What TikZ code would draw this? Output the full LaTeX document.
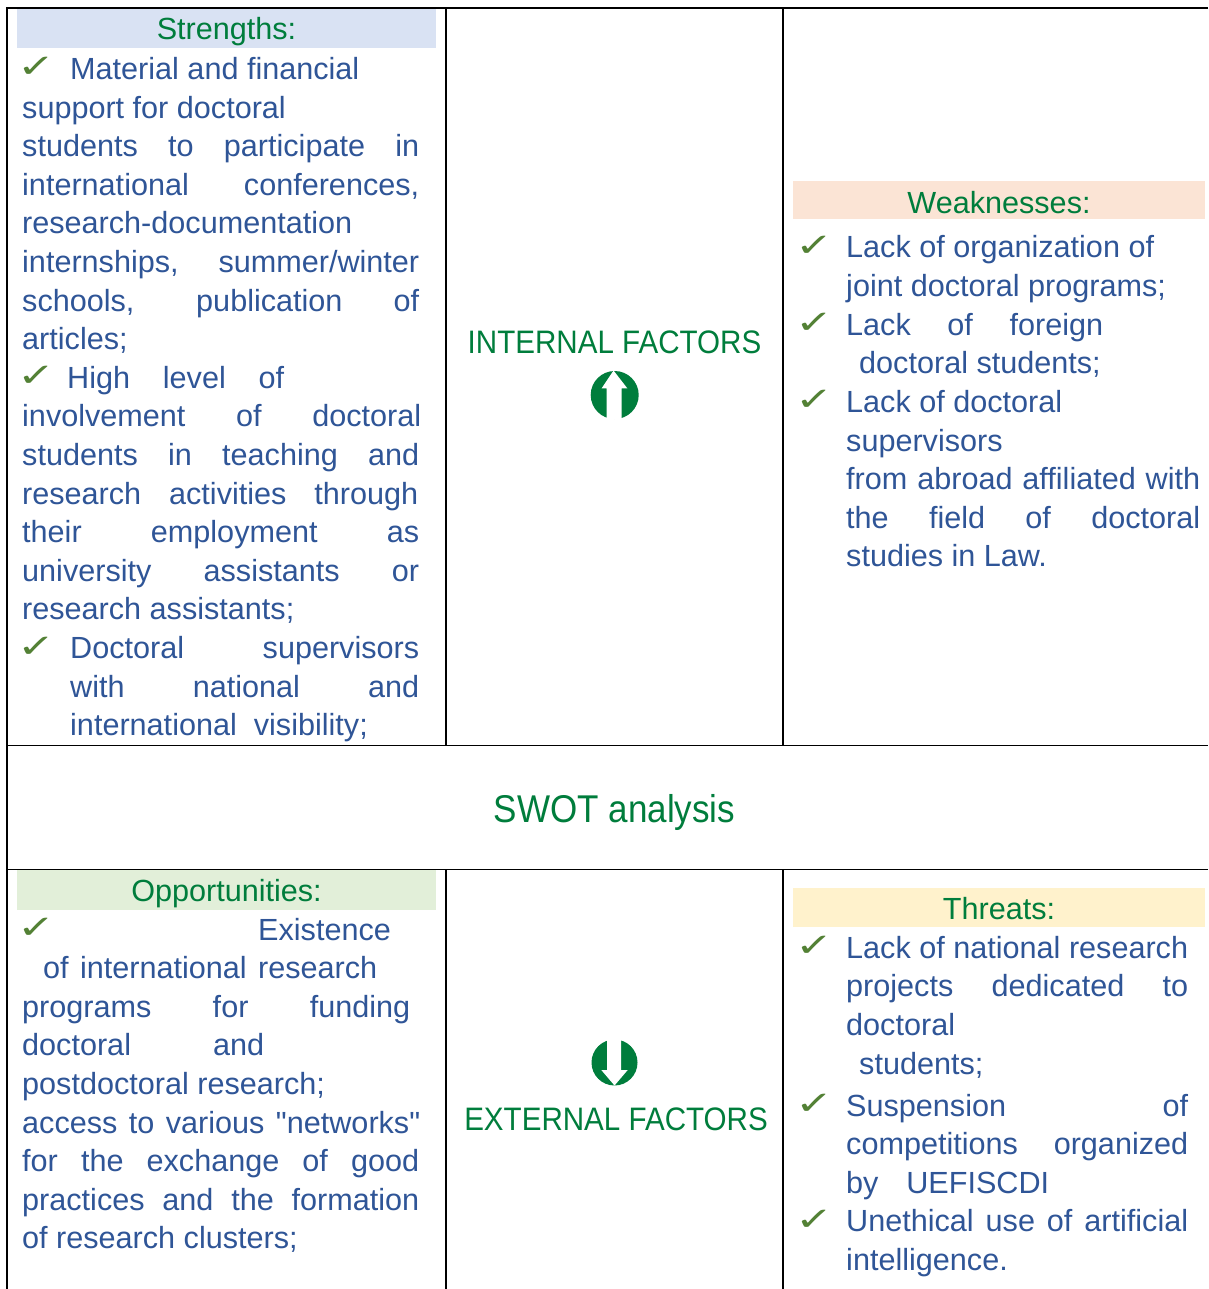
\documentclass[tikz,border=0pt]{standalone}
\usepackage{fontspec}
\setmainfont{Liberation Sans}
\newfontfamily\swotfont{Liberation Sans}
\newfontfamily\tickfont{DejaVu Sans}

\definecolor{swotblue}{RGB}{47,85,151}
\definecolor{swotgreen}{RGB}{0,125,60}
\definecolor{tickgreen}{RGB}{83,129,53}
\definecolor{strfill}{RGB}{217,226,243}
\definecolor{weakfill}{RGB}{251,228,213}
\definecolor{oppfill}{RGB}{226,239,217}
\definecolor{thrfill}{RGB}{255,242,204}

\newcommand{\swotbody}{\swotfont\fontsize{30.6}{38.6}\selectfont}
\newcommand{\just}[2]{\makebox[#1pt][s]{#2}}
\newcommand{\tickmark}{\scalebox{1.2}[0.85]{✓}}

\begin{document}
\begin{tikzpicture}[x=1pt, y=-1pt,
	txt/.style={anchor=base west, inner sep=0, text=swotblue, font=\swotbody},
	head/.style={anchor=base, inner sep=0, text=swotgreen, font=\swotbody},
	tick/.style={anchor=base west, inner sep=0, text=tickgreen, font=\tickfont\fontsize{38}{38}\selectfont},
	factor/.style={anchor=base, inner sep=0, text=swotgreen, font=\swotfont\fontsize{32.5}{32.5}\selectfont},
	rule/.style={line width=1.6pt}]
	\useasboundingbox (0, 0) rectangle (1208, 1289);
	\fill[white] (0, 0) rectangle (1208, 1289);

	% header bands
	\fill[strfill] (17, 9) rectangle (436, 48);
	\fill[weakfill] (793, 181) rectangle (1205, 219);
	\fill[oppfill] (17, 870) rectangle (436, 910);
	\fill[thrfill] (793, 888) rectangle (1205, 927);

	% table rules
	\draw[rule] (1208, 8) -- (7, 8) -- (7, 1289);
	\draw[rule] (7, 745.5) -- (1208, 745.5);
	\draw[rule] (7, 869.5) -- (1208, 869.5);
	\draw[rule] (446, 8) -- (446, 745.5);
	\draw[rule] (783, 8) -- (783, 745.5);
	\draw[rule] (446, 869.5) -- (446, 1289);
	\draw[rule] (783, 869.5) -- (783, 1289);

	% Strengths
	\node (strhead) at (226.5, 39.5) [head] {Strengths:};
	\node (st1) at (17, 78) [tick] {\tickmark};
	\node (s1) at (70, 79.5) [txt] {Material and financial};
	\node (s2) at (22, 118.1) [txt] {support for doctoral};
	\node (s3) at (22, 156.7) [txt] {\just{397}{students to participate in}};
	\node (s4) at (22, 195.3) [txt] {\just{397}{international conferences,}};
	\node (s5) at (22, 233.9) [txt] {research-documentation};
	\node (s6) at (22, 272.5) [txt] {\just{397}{internships, summer/winter}};
	\node (s7) at (22, 311.1) [txt] {\just{397}{schools, publication of}};
	\node (s8) at (22, 349.7) [txt] {articles;};
	\node (st2) at (17, 386.8) [tick] {\tickmark};
	\node (s9) at (67, 388.3) [txt] {\just{217}{High level of}};
	\node (s10) at (22, 426.9) [txt] {\just{399}{involvement of doctoral}};
	\node (s11) at (22, 465.5) [txt] {\just{397}{students in teaching and}};
	\node (s12) at (22, 504.1) [txt] {\just{396}{research activities through}};
	\node (s13) at (22, 542.7) [txt] {\just{397}{their employment as}};
	\node (s14) at (22, 581.3) [txt] {\just{397}{university assistants or}};
	\node (s15) at (22, 619.9) [txt] {research assistants;};
	\node (st3) at (17, 657) [tick] {\tickmark};
	\node (s16) at (70, 658.5) [txt] {\just{349}{Doctoral supervisors}};
	\node (s17) at (70, 697.1) [txt] {\just{349}{with national and}};
	\node (s18) at (70, 735.7) [txt] {international\ \ visibility;};

	% Weaknesses
	\node (weakhead) at (999, 213.3) [head] {Weaknesses:};
	\node (wt1) at (795, 256.5) [tick] {\tickmark};
	\node (w1) at (846, 258) [txt] {Lack of organization of};
	\node (w2) at (846, 296.6) [txt] {joint doctoral programs;};
	\node (wt2) at (795, 333.7) [tick] {\tickmark};
	\node (w3) at (846, 335.2) [txt] {\just{257}{Lack of foreign}};
	\node (w4) at (859, 373.8) [txt] {doctoral students;};
	\node (wt3) at (795, 410.9) [tick] {\tickmark};
	\node (w5) at (846, 412.4) [txt] {Lack of doctoral};
	\node (w6) at (846, 451) [txt] {supervisors};
	\node (w7) at (846, 489.6) [txt] {\just{354}{from abroad affiliated with}};
	\node (w8) at (846, 528.2) [txt] {\just{354}{the field of doctoral}};
	\node (w9) at (846, 566.8) [txt] {studies in Law.};

	% internal factors
	\node (internal) at (614.5, 353.3) [factor] {\scalebox{0.91}[1]{INTERNAL FACTORS}};
	\fill[swotgreen] (614.7, 395) circle (24);
	\fill[white] (613.5, 370.5) -- (627.3, 388.3) -- (621.7, 388.3) -- (621.7, 419.5)
		-- (606.7, 419.5) -- (606.7, 388.3) -- (601.7, 388.3) -- cycle;

	% centre row
	\node (swot) at (614.5, 822.7) [anchor=base, inner sep=0, text=swotgreen,
		font=\swotfont\fontsize{38.7}{38.7}\selectfont] {\scalebox{0.905}[1]{SWOT analysis}};

	% Opportunities
	\node (opphead) at (226.5, 901.7) [head] {Opportunities:};
	\node (ot1) at (17, 938.5) [tick] {\tickmark};
	\node (o1) at (258, 940) [txt] {Existence};
	\node (o2) at (43, 978.6) [txt] {\just{334}{of international research}};
	\node (o3) at (22, 1017.2) [txt] {\just{388}{programs for funding}};
	\node (o4) at (22, 1055.8) [txt] {\just{242}{doctoral and}};
	\node (o5) at (22, 1094.4) [txt] {postdoctoral research;};
	\node (o6) at (22, 1133) [txt] {\just{398}{access to various "networks"}};
	\node (o7) at (22, 1171.6) [txt] {\just{397}{for the exchange of good}};
	\node (o8) at (22, 1210.2) [txt] {\just{397}{practices and the formation}};
	\node (o9) at (22, 1248.8) [txt] {of research clusters;};

	% external factors
	\fill[swotgreen] (614.5, 1062.5) circle (23);
	\fill[white] (607, 1039) -- (621, 1039) -- (621, 1070) -- (627.7, 1070)
		-- (614.5, 1085.5) -- (601.3, 1070) -- (607, 1070) -- cycle;
	\node (external) at (616, 1130) [factor] {\scalebox{0.91}[1]{EXTERNAL FACTORS}};

	% Threats
	\node (thrhead) at (999, 919.3) [head] {Threats:};
	\node (tt1) at (795, 956.8) [tick] {\tickmark};
	\node (t1) at (846, 958.3) [txt] {Lack of national research};
	\node (t2) at (846, 996.9) [txt] {\just{342}{projects dedicated to}};
	\node (t3) at (846, 1035.5) [txt] {doctoral};
	\node (t4) at (859, 1074.1) [txt] {students;};
	\node (tt2) at (795, 1114.5) [tick] {\tickmark};
	\node (t5) at (846, 1116) [txt] {\just{342}{Suspension of}};
	\node (t6) at (846, 1154.6) [txt] {\just{342}{competitions organized}};
	\node (t7) at (846, 1193.2) [txt] {\just{203}{by UEFISCDI}};
	\node (tt3) at (795, 1230.3) [tick] {\tickmark};
	\node (t8) at (846, 1231.8) [txt] {\just{342}{Unethical use of artificial}};
	\node (t9) at (846, 1270.4) [txt] {intelligence.};
\end{tikzpicture}
\end{document}
